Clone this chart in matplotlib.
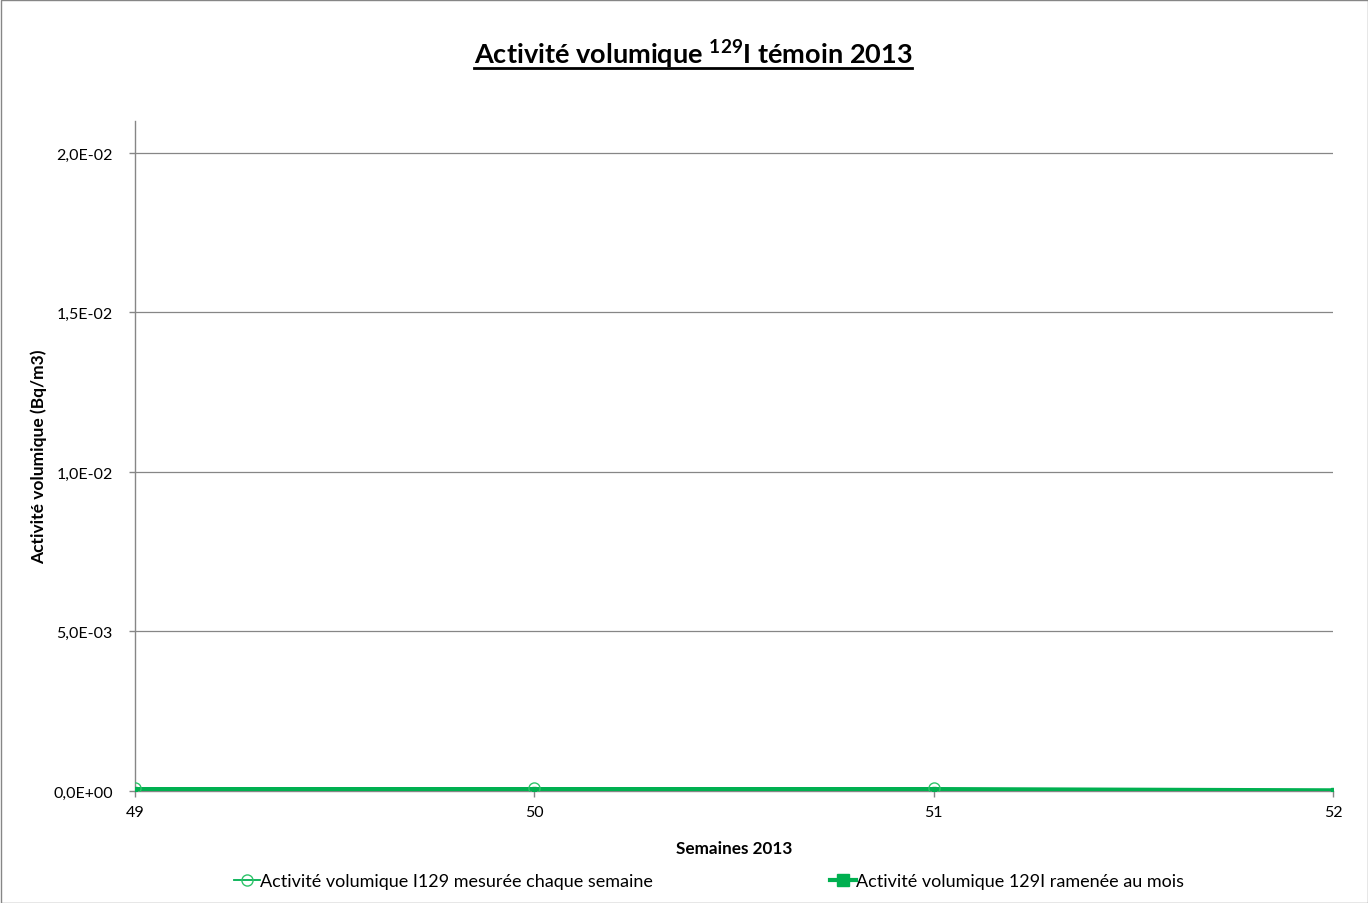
import matplotlib
matplotlib.use("Agg")
import matplotlib.pyplot as plt
from matplotlib.ticker import FuncFormatter, MultipleLocator
from matplotlib.lines import Line2D
from matplotlib.patches import Rectangle

plt.rcParams['font.family'] = ['Lato', 'DejaVu Sans']
plt.rcParams['mathtext.fontset'] = 'custom'
plt.rcParams['mathtext.rm'] = 'Lato'
plt.rcParams['mathtext.bf'] = 'Lato:bold'

weeks = [49, 50, 51, 52]
weekly_weeks = [49, 50, 51]
weekly_values = [8e-5, 8e-5, 8e-5]
monthly_values = [6e-5, 6e-5, 6e-5, 2e-5]

title = "Activité volumique $\\mathbf{^{129}}$I témoin 2013"
xlabel = "Semaines 2013"
ylabel = "Activité volumique (Bq/m3)"
label_weekly = "Activité volumique I129 mesurée chaque semaine"
label_monthly = "Activité volumique 129I ramenée au mois"

green = '#00B050'

fig = plt.figure(figsize=(13.68, 9.04), dpi=100)
ax = fig.add_axes([135/1368, 1-792/904, (1333-135)/1368, (792-122)/904])

ax.plot(weeks, monthly_values, color=green, lw=3, marker='s', ms=3, zorder=3)
ax.plot(weekly_weeks, weekly_values, color=green, lw=1.3, marker='o', ms=8,
        mfc='none', mec='#2EC46A', mew=1.0, zorder=4)

ax.set_xlim(49, 52)
ax.set_ylim(0, 0.021)
ax.xaxis.set_major_locator(MultipleLocator(1))
ax.yaxis.set_major_locator(MultipleLocator(0.005))

def fmt(v, pos):
    if v > 0.0205:
        return ''
    return f"{v:.1E}".replace('.', ',')
ax.yaxis.set_major_formatter(FuncFormatter(fmt))
ax.xaxis.set_major_formatter(FuncFormatter(lambda v, p: f"{int(round(v))}"))

ax.grid(axis='y', color='#868686', lw=0.9)
ax.set_axisbelow(True)
for s in ['top', 'right']:
    ax.spines[s].set_visible(False)
for s in ['left', 'bottom']:
    ax.spines[s].set_color('#868686')
    ax.spines[s].set_linewidth(1.0)
ax.tick_params(axis='both', colors='#868686', labelcolor='black', labelsize=11.5,
               length=4, width=1)
ax.tick_params(axis='y', pad=12)
ax.tick_params(axis='x', pad=6)
ax.set_xlabel(xlabel, fontsize=12.3, fontweight='bold', labelpad=15)
ax.set_ylabel(ylabel, fontsize=12.5, fontweight='bold')
ax.yaxis.set_label_coords((47-135)/1198, 0.5)

t = fig.text(693/1368, 1-55/904, title, ha='center', va='center',
             fontsize=19.5, fontweight='bold')
fig.canvas.draw()
bb = t.get_window_extent(fig.canvas.get_renderer())
fig.add_artist(Line2D([bb.x0/1368, bb.x1/1368], [1-69/904, 1-69/904],
                      color='black', lw=2, transform=fig.transFigure))

h1 = Line2D([], [], color=green, lw=1.3, marker='o', ms=8, mfc='none', mec='#2EC46A')
h2 = Line2D([], [], color=green, lw=3, marker='s', ms=9)
fig.legend([h1, h2], [label_weekly, label_monthly], loc='center',
           bbox_to_anchor=(709/1368, 1-882/904), ncol=2, frameon=False,
           fontsize=13, columnspacing=9.8, handlelength=1.45, handletextpad=0.0)

fig.add_artist(Rectangle((0.5/1368, 0.5/904), 1-1/1368, 1-1/904, transform=fig.transFigure,
                         fill=False, edgecolor='#868686', lw=1))

fig.savefig('out.png', dpi=100)
